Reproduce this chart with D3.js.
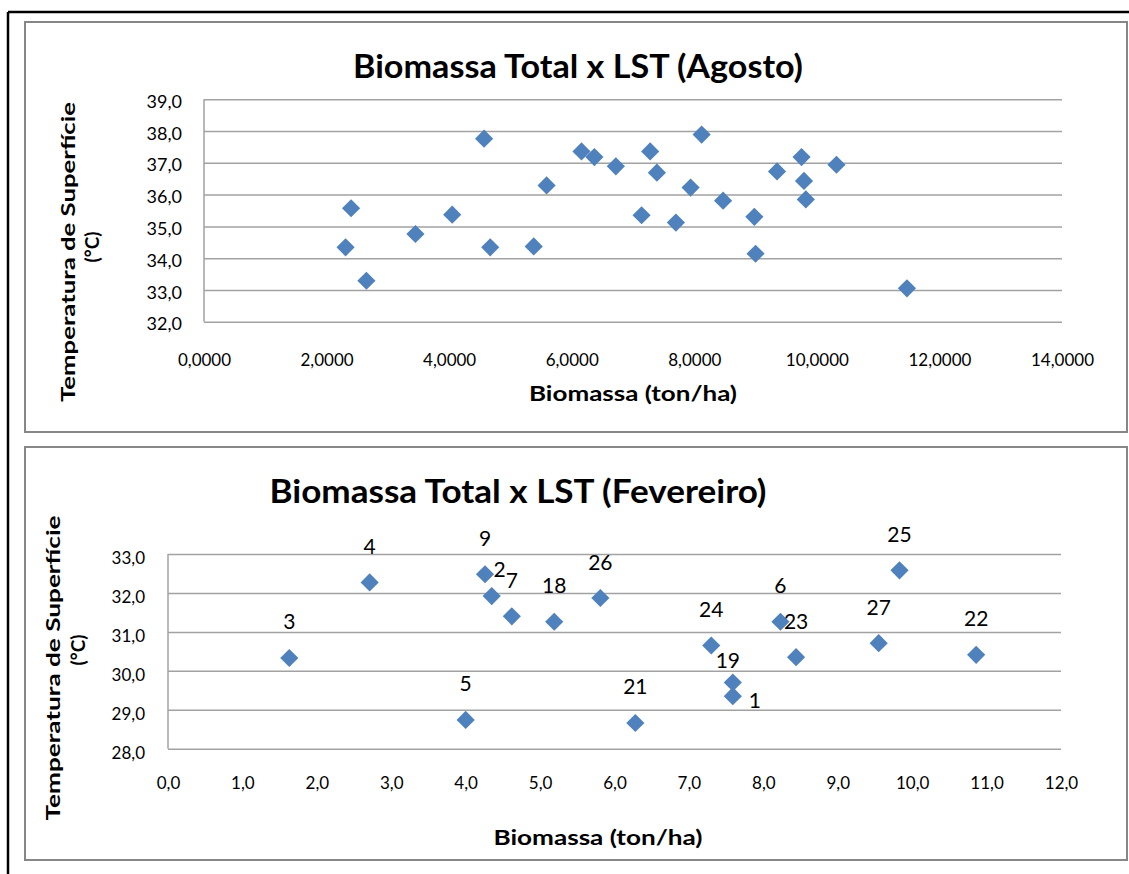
<!DOCTYPE html>
<html>
<head>
<meta charset="utf-8">
<script src="https://cdn.jsdelivr.net/npm/d3@7"></script>
<style>
  html, body { margin: 0; padding: 0; background: #fff; }
  svg { display: block; }
  text { font-family: Lato, "Open Sans", sans-serif; fill: #000; }
</style>
</head>
<body>
<svg id="fig" width="1129" height="874"></svg>
<script>
// ---- August: biomass (ton/ha) vs land surface temperature (°C)
const agostoBiomassa = [2.31, 2.40, 2.65, 3.45, 4.05, 4.57, 4.67, 5.38, 5.59, 6.16, 6.37, 6.72, 7.14, 7.28,
                        7.39, 7.70, 7.94, 8.12, 8.47, 8.98, 9.00, 9.35, 9.75, 9.79, 9.82, 10.32, 11.47];
const agostoLST      = [34.34, 35.57, 33.29, 34.76, 35.37, 37.76, 34.34, 34.37, 36.29, 37.36, 37.18, 36.89, 35.35, 37.36,
                        36.69, 35.12, 36.22, 37.89, 35.81, 35.30, 34.14, 36.73, 37.18, 36.43, 35.85, 36.94, 33.05];
const agostoXTicks = [0, 2, 4, 6, 8, 10, 12, 14];
const agostoYTicks = [32, 33, 34, 35, 36, 37, 38, 39];

// ---- February: labelled sample points
const fevereiroIds       = [1, 2, 3, 4, 5, 6, 7, 9, 18, 19, 21, 22, 23, 24, 25, 26, 27];
const fevereiroBiomassa  = [7.59, 4.35, 1.63, 2.71, 4.00, 8.23, 4.62, 4.26, 5.19, 7.59, 6.28, 10.86, 8.44, 7.30, 9.83, 5.81, 9.55];
const fevereiroLST       = [29.35, 31.92, 30.33, 32.27, 28.74, 31.26, 31.40, 32.48, 31.26, 29.70, 28.66, 30.41, 30.35, 30.65, 32.58, 31.87, 30.71];
const fevereiroXTicks = [0, 1, 2, 3, 4, 5, 6, 7, 8, 9, 10, 11, 12];
const fevereiroYTicks = [28, 29, 30, 31, 32, 33];

// Hand-moved data labels (offset of the label centre from the marker, px)
const labelNudge = { 2: [8, -27], 19: [-5, -22], 1: [22, 4] };

const ptBR = d3.formatLocale({ decimal: ",", thousands: ".", grouping: [3], currency: ["R$", ""] });
const MARK = "#4F81BD", GRID = "#a2a2a2", FRAME = "#878787";

const svg = d3.select("#fig");

// page frame (top and left rule)
svg.append("line").attr("x1", 8).attr("x2", 1129).attr("y1", 12).attr("y2", 12)
   .attr("stroke", "#000").attr("stroke-width", 2.5);
svg.append("line").attr("x1", 8).attr("x2", 8).attr("y1", 12).attr("y2", 874)
   .attr("stroke", "#000").attr("stroke-width", 2.5);

const diamond = d3.symbol().type(d3.symbolSquare).size(165);

function panel(cfg) {
  const g = svg.append("g");
  g.append("rect").attr("x", cfg.box[0]).attr("y", cfg.box[1]).attr("width", cfg.box[2]).attr("height", cfg.box[3])
    .attr("fill", "#fff").attr("stroke", FRAME).attr("stroke-width", 2);

  const x = d3.scaleLinear().domain(cfg.xDomain).range(cfg.xRange);
  const y = d3.scaleLinear().domain(cfg.yDomain).range(cfg.yRange);
  const w = cfg.xRange[1] - cfg.xRange[0];

  // horizontal gridlines + y labels
  const ya = g.append("g").attr("transform", `translate(${cfg.xRange[0]},0)`)
    .call(d3.axisLeft(y).tickValues(cfg.yTicks).tickSize(-w).tickPadding(cfg.yPad)
      .tickFormat(ptBR.format(".1f")));
  ya.select(".domain").remove();
  ya.selectAll(".tick line").attr("stroke", GRID).attr("stroke-width", 1.5);
  ya.selectAll(".tick text").attr("dy", cfg.yDy).attr("font-size", cfg.yTickFont)
    .style("font-family", "Lato, sans-serif").attr("fill", "#000");
  // left axis line
  g.append("line").attr("x1", cfg.xRange[0]).attr("x2", cfg.xRange[0])
    .attr("y1", cfg.yRange[1]).attr("y2", cfg.yRange[0]).attr("stroke", GRID).attr("stroke-width", 1.5);

  // x labels
  const xa = g.append("g").attr("transform", `translate(0,${cfg.yRange[0]})`)
    .call(d3.axisBottom(x).tickValues(cfg.xTicks).tickSize(0).tickPadding(cfg.xPad)
      .tickFormat(ptBR.format(cfg.xFmt)));
  xa.select(".domain").remove();
  xa.selectAll(".tick text").attr("font-size", cfg.xTickFont)
    .style("font-family", "Lato, sans-serif").attr("fill", "#000");

  // markers
  const pts = cfg.xs.map((v, i) => ({ x: v, y: cfg.ys[i], id: cfg.ids ? cfg.ids[i] : null }));
  g.append("g").selectAll("path").data(pts).join("path")
    .attr("d", diamond)
    .attr("transform", d => `translate(${x(d.x)},${y(d.y)}) rotate(45)`)
    .attr("fill", MARK);

  if (cfg.ids) {
    g.append("g").selectAll("text").data(pts).join("text")
      .attr("x", d => x(d.x) + (labelNudge[d.id] ? labelNudge[d.id][0] : 0))
      .attr("y", d => y(d.y) + (labelNudge[d.id] ? labelNudge[d.id][1] : -36) + 7.5)
      .attr("text-anchor", "middle").attr("font-size", 21)
      .text(d => d.id);
  }

  // chart title
  g.append("text").attr("x", cfg.title[1]).attr("y", cfg.title[2])
    .attr("text-anchor", "middle").attr("font-size", 32).attr("font-weight", 700)
    .attr("textLength", cfg.title[3]).attr("lengthAdjust", "spacingAndGlyphs")
    .text(cfg.title[0]);
  // x-axis title
  g.append("text").attr("x", cfg.xTitle[0]).attr("y", cfg.xTitle[1])
    .attr("text-anchor", "middle").attr("font-size", 21).attr("font-weight", 700)
    .attr("textLength", cfg.xTitle[2]).attr("lengthAdjust", "spacingAndGlyphs")
    .text("Biomassa (ton/ha)");
  // y-axis title, two rotated lines
  g.append("text")
    .attr("transform", `translate(${cfg.yTitle[1]},${cfg.yTitle[0]}) rotate(-90)`)
    .attr("text-anchor", "middle").attr("font-size", 19).attr("font-weight", 700)
    .attr("textLength", cfg.yTitle[4]).attr("lengthAdjust", "spacingAndGlyphs")
    .text("Temperatura de Superfície");
  g.append("text")
    .attr("transform", `translate(${cfg.yTitle[3]},${cfg.yTitle[2]}) rotate(-90)`)
    .attr("text-anchor", "middle").attr("font-size", 19).attr("font-weight", 700)
    .text("(°C)");
}

panel({
  box: [25, 22, 1102, 410],
  xDomain: [0, 14], xRange: [204, 1062],
  yDomain: [32, 39], yRange: [321.7, 99.3],
  xTicks: agostoXTicks, yTicks: agostoYTicks, xFmt: ".4f",
  xs: agostoBiomassa, ys: agostoLST,
  yTickFont: 18, xTickFont: 17, yPad: 22, yDy: "0.45em", xPad: 32,
  title: ["Biomassa Total x LST (Agosto)", 578, 78, 450],
  xTitle: [633, 401, 208],
  yTitle: [252, 75, 247, 99, 300]
});

panel({
  box: [25, 447, 1102, 413],
  xDomain: [0, 12], xRange: [168, 1061],
  yDomain: [28, 33], yRange: [748.7, 554],
  xTicks: fevereiroXTicks, yTicks: fevereiroYTicks, xFmt: ".1f",
  xs: fevereiroBiomassa, ys: fevereiroLST, ids: fevereiroIds,
  yTickFont: 17, xTickFont: 17, yPad: 23, yDy: "0.55em", xPad: 28,
  title: ["Biomassa Total x LST (Fevereiro)", 518, 503, 497],
  xTitle: [598, 845, 209],
  yTitle: [668, 60, 650, 85, 305]
});
</script>
</body>
</html>
